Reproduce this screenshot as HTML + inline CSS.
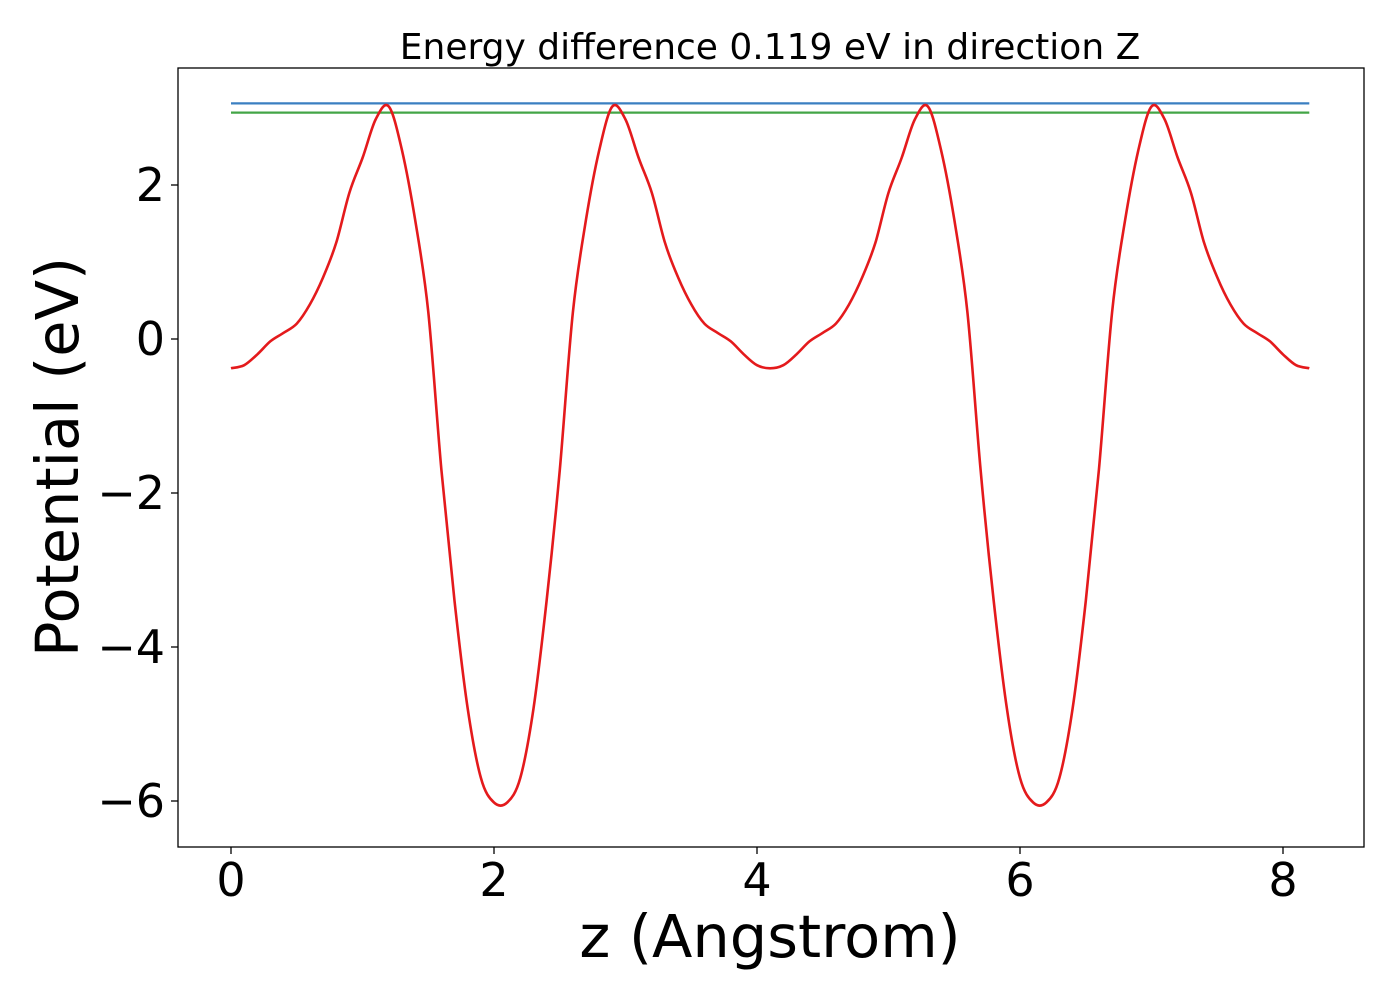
<!DOCTYPE html>
<html><head><meta charset="utf-8"><style>
body{margin:0;background:#fff}
svg text{font-family:"DejaVu Sans","Liberation Sans",sans-serif;fill:#000}
</style></head><body>
<svg width="1400" height="1000" id="svg">
<rect x="0" y="0" width="1400" height="1000" fill="#fff"/>
<text x="770" y="59" font-size="36" text-anchor="middle">Energy difference 0.119 eV in direction Z</text>
<g id="plot"></g>
<rect x="178" y="68" width="1186" height="779" fill="none" stroke="#000" stroke-width="1.3"/>
<text x="770" y="957" font-size="59" text-anchor="middle">z (Angstrom)</text>
<text transform="translate(78,457) rotate(-90)" font-size="59" text-anchor="middle">Potential (eV)</text>
</svg>
<script>
const zValues=[0,0.1,0.2,0.3,0.4,0.5,0.6,0.7,0.8,0.9,1.0,1.1,1.2,1.3,1.4,1.5,1.6,1.7,1.8,1.9,2.0,2.1,2.2,2.3,2.4,2.5,2.6,2.7,2.8,2.9,3.0,3.1,3.2,3.3,3.4,3.5,3.6,3.7,3.8,3.9,4.0,4.1,4.2,4.3,4.4,4.5,4.6,4.7,4.8,4.9,5.0,5.1,5.2,5.3,5.4,5.5,5.6,5.7,5.8,5.9,6.0,6.1,6.2,6.3,6.4,6.5,6.6,6.7,6.8,6.9,7.0,7.1,7.2,7.3,7.4,7.5,7.6,7.7,7.8,7.9,8.0,8.1,8.2];
const potential=[-0.38,-0.34,-0.2,-0.03,0.08,0.2,0.45,0.8,1.25,1.9,2.35,2.85,3.02,2.45,1.55,0.35,-1.7,-3.4,-4.8,-5.7,-6.02,-6.02,-5.7,-4.8,-3.4,-1.7,0.35,1.55,2.45,3.02,2.85,2.35,1.9,1.25,0.8,0.45,0.2,0.08,-0.03,-0.2,-0.34,-0.38,-0.34,-0.2,-0.03,0.08,0.2,0.45,0.8,1.25,1.9,2.35,2.85,3.02,2.45,1.55,0.35,-1.7,-3.4,-4.8,-5.7,-6.02,-6.02,-5.7,-4.8,-3.4,-1.7,0.35,1.55,2.45,3.02,2.85,2.35,1.9,1.25,0.8,0.45,0.2,0.08,-0.03,-0.2,-0.34,-0.38];
const refLevels=[3.06,2.94];
const refColors=['#3a7fc1','#43a547'];
const xTicks=[0,2,4,6,8];
const yTicks=[2,0,-2,-4,-6];
const yTickLabels=['2','0','\u22122','\u22124','\u22126'];
const X=v=>231+131.5*v;
const Y=v=>339-77*v;
const NS='http://www.w3.org/2000/svg';
const g=document.getElementById('plot');
function mk(t,a){const e=document.createElementNS(NS,t);for(const k in a)e.setAttribute(k,a[k]);g.appendChild(e);return e;}
refLevels.forEach((v,i)=>{
 const l=mk('line',{x1:X(0),x2:X(8.2),y1:Y(v),y2:Y(v),stroke:refColors[i],'stroke-width':2.2});
 
 
});
const P=zValues.map((z,i)=>[X(z),Y(potential[i])]);
let d='M'+P[0][0].toFixed(1)+','+P[0][1].toFixed(1);
for(let i=0;i<P.length-1;i++){
 const p0=P[Math.max(0,i-1)],p1=P[i],p2=P[i+1],p3=P[Math.min(P.length-1,i+2)];
 const c1=[p1[0]+(p2[0]-p0[0])/6,p1[1]+(p2[1]-p0[1])/6];
 const c2=[p2[0]-(p3[0]-p1[0])/6,p2[1]-(p3[1]-p1[1])/6];
 d+=' C'+c1.map(v=>v.toFixed(1)).join(',')+' '+c2.map(v=>v.toFixed(1)).join(',')+' '+p2.map(v=>v.toFixed(1)).join(',');
}
const pl=mk('path',{d:d,fill:'none',stroke:'#e41a1c','stroke-width':2.6,'stroke-linejoin':'round'});


xTicks.forEach(v=>{
 const t=mk('line',{x1:X(v),x2:X(v),y1:847,y2:854,stroke:'#000','stroke-width':1.3});
 
 
 const s=mk('text',{x:X(v),y:896,'font-size':46,'text-anchor':'middle'});
 s.textContent=v;
 
 
});
yTicks.forEach((v,i)=>{
 const t=mk('line',{x1:171,x2:178,y1:Y(v),y2:Y(v),stroke:'#000','stroke-width':1.3});
 
 
 const s=mk('text',{x:165,y:Y(v)+16,'font-size':46,'text-anchor':'end'});
 s.textContent=yTickLabels[i];
 
 
});
</script>
</body></html>
